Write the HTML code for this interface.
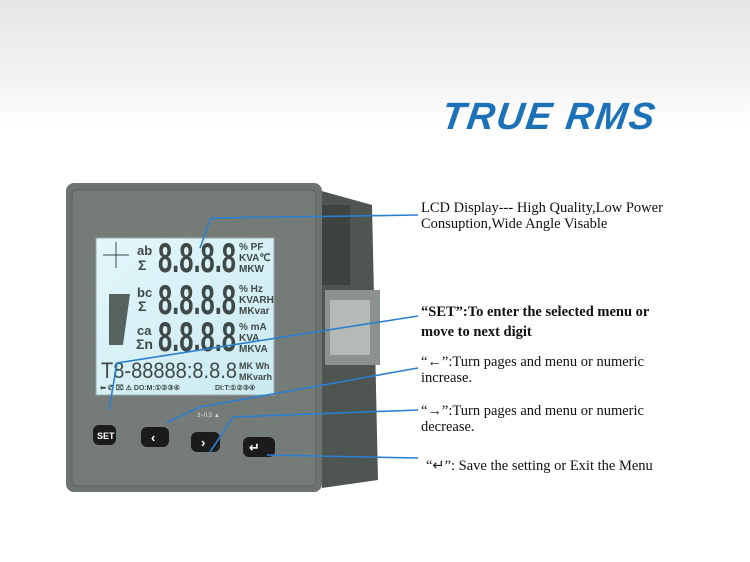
<!DOCTYPE html>
<html><head><meta charset="utf-8"><style>
body{margin:0;width:750px;height:562px;overflow:hidden;background:#fff;position:relative;font-family:"Liberation Serif",serif}
.bg{position:absolute;left:0;top:0;width:750px;height:125px;background:linear-gradient(#e6e6e6,#f4f4f4 70%,#fff)}
.t{position:absolute;color:#111;font-size:14.5px;line-height:16px;white-space:nowrap}
</style></head><body>
<div class="bg"></div>
<div style="position:absolute;left:442px;top:96px;font:italic 900 38px 'Liberation Sans',sans-serif;color:#1c72b8;letter-spacing:2px;transform:skewX(-8deg)">TRUE RMS</div>
<svg width="750" height="562" style="position:absolute;left:0;top:0">
<defs><linearGradient id="lcd" x1="0" y1="0" x2="1" y2="1"><stop offset="0" stop-color="#e3f7fb"/><stop offset="1" stop-color="#c9eaf0"/></linearGradient></defs>
<path d="M318 190 L372 205 L378 480 L322 488 Z" fill="#4f5550"/>
<rect x="322" y="205" width="28" height="80" fill="#3e433f"/>
<rect x="325" y="290" width="55" height="75" fill="#8b918d"/>
<rect x="330" y="300" width="40" height="55" fill="#b5bab6"/>
<rect x="66" y="183" width="256" height="309" rx="8" fill="#6d746f"/>
<rect x="72" y="190" width="244" height="296" rx="5" fill="#757c77" stroke="#5d635f"/>
<rect x="96" y="238" width="178" height="157" fill="url(#lcd)" stroke="#9aa" />
<g font-family="Liberation Sans,sans-serif" fill="#3f4a48" font-weight="bold">
<text x="137" y="255" font-size="13">ab</text><text x="138" y="270" font-size="14">Σ</text>
<text x="158" y="272" font-size="42" textLength="78" lengthAdjust="spacingAndGlyphs">8.8.8.8</text>
<text x="239" y="250" font-size="10">% PF</text><text x="239" y="261" font-size="10">KVA℃</text><text x="239" y="272" font-size="10">MKW</text>
<text x="137" y="297" font-size="13">bc</text><text x="138" y="311" font-size="14">Σ</text>
<text x="158" y="314" font-size="42" textLength="78" lengthAdjust="spacingAndGlyphs">8.8.8.8</text>
<text x="239" y="292" font-size="10">% Hz</text><text x="239" y="303" font-size="10">KVARH</text><text x="239" y="314" font-size="10">MKvar</text>
<text x="137" y="335" font-size="13">ca</text><text x="136" y="349" font-size="14">Σn</text>
<text x="158" y="351" font-size="42" textLength="78" lengthAdjust="spacingAndGlyphs">8.8.8.8</text>
<text x="239" y="330" font-size="10">% mA</text><text x="239" y="341" font-size="10">KVA</text><text x="239" y="352" font-size="10">MKVA</text>
<text x="101" y="378" font-size="22" font-weight="normal" textLength="136" lengthAdjust="spacingAndGlyphs">T8-88888:8.8.8</text>
<text x="239" y="369" font-size="9">MK Wh</text><text x="239" y="380" font-size="9">MKvarh</text>
<text x="100" y="390" font-size="7">⬅ ✆ ⌧ ⚠  DO:M:①②③④</text><text x="215" y="390" font-size="7">DI:T:①②③④</text>
</g>
<path d="M109 294 L130 294 L123 345 L109 345 Z" fill="#56625f"/>
<g stroke="#3f4a48" stroke-width="1"><line x1="116" y1="242" x2="116" y2="268"/><line x1="103" y1="255" x2="129" y2="255"/></g>
<text x="197" y="417" font-size="6" fill="#ddd" font-family="Liberation Sans,sans-serif">3~0.5 ▲</text>
<rect x="93" y="425" width="23" height="20" rx="6" fill="#1b1b1b"/><text x="97" y="439" font-size="9" font-weight="bold" fill="#fff" font-family="Liberation Sans,sans-serif">SET</text>
<rect x="141" y="427" width="28" height="20" rx="6" fill="#1b1b1b"/><text x="151" y="442" font-size="13" font-weight="bold" fill="#fff" font-family="Liberation Sans,sans-serif">‹</text>
<rect x="191" y="432" width="29" height="20" rx="6" fill="#1b1b1b"/><text x="201" y="447" font-size="13" font-weight="bold" fill="#fff" font-family="Liberation Sans,sans-serif">›</text>
<rect x="243" y="437" width="32" height="20" rx="6" fill="#1b1b1b"/><text x="249" y="452" font-size="13" font-weight="bold" fill="#fff" font-family="DejaVu Sans,sans-serif">↵</text>
<g stroke="#2b7fd0" stroke-width="1.6" fill="none">
<polyline points="200,248 211,218 418,215"/>
<polyline points="109,410 117,363 418,316"/>
<polyline points="166,423 200,407 418,368"/>
<polyline points="210,452 233,417 418,410"/>
<polyline points="267,455 418,458"/>
</g>
</svg>
<div class="t" style="left:421px;top:200px">LCD Display--- High Quality,Low Power<br>Consuption,Wide Angle Visable</div>
<div class="t" style="left:421px;top:302px;font-weight:bold;line-height:20px">“SET”:To enter the selected menu or<br>move to next digit</div>
<div class="t" style="left:421px;top:354px">“←”:Turn pages and menu or numeric<br>increase.</div>
<div class="t" style="left:421px;top:403px">“→”:Turn pages and menu or numeric<br>decrease.</div>
<div class="t" style="left:426px;top:458px">“↵”:  Save the setting or Exit the Menu</div>
</body></html>
